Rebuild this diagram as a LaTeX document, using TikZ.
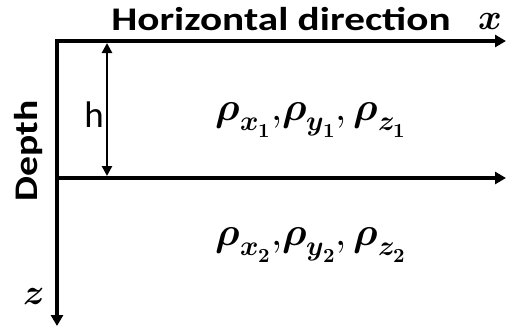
\documentclass[tikz,border=0pt]{standalone}
\usepackage{fontspec}
\usepackage{unicode-math}
\setmainfont{Carlito}
\setmathfont{Latin Modern Math}
\usetikzlibrary{arrows.meta}
\newcommand{\rhotrip}[1]{$\symbfit{\rho}_{\symbfit{x}_{\symbf{#1}}}{,}\symbfit{\rho}_{\symbfit{y}_{\symbf{#1}}}{,}\,\symbfit{\rho}_{\symbfit{z}_{\symbf{#1}}}$}
\begin{document}
\begin{tikzpicture}[x=1pt,y=-1pt,
  axis/.style={line width=3.6pt,-{Triangle[length=11pt,width=12pt]}},
  dim/.style={line width=2.8pt,{Triangle[length=10pt,width=10pt]}-{Triangle[length=10pt,width=10pt]}},
  lbl/.style={font=\fontsize{33}{36}\selectfont\bfseries,inner sep=0pt},
  mlbl/.style={font=\fontsize{40}{44}\selectfont,inner sep=0pt}]
\useasboundingbox (0,0) rectangle (507,327);
\coordinate (o) at (57,41);
\coordinate (xe) at (506,41);
\coordinate (ze) at (57,326);
\coordinate (l) at (57,178);
\coordinate (le) at (506,178);
\coordinate (ht) at (107,43);
\coordinate (hb) at (107,176);
\draw[axis] ([xshift=-1.8pt]o) -- (xe);
\draw[axis] (o) -- (ze);
\draw[axis] (l) -- (le);
\draw[dim] (ht) -- (hb);
\node[lbl] (title) at (281,19) {\scalebox{1.25}[1]{Horizontal direction}};
\node[font=\fontsize{36}{40}\selectfont,inner sep=0pt] (xl) at (490,22) {$\symbfit{x}$};
\node[lbl,rotate=90] (depth) at (29,151) {\scalebox{1.2}[1]{Depth}};
\node[font=\fontsize{36}{40}\selectfont,inner sep=0pt] (zl) at (34,297) {$\symbfit{z}$};
\node[font=\fontsize{37}{40}\selectfont,inner sep=0pt] (h) at (94,115) {h};
\node[mlbl] (r1) at (311,120) {\rhotrip{1}};
\node[mlbl] (r2) at (311,245) {\rhotrip{2}};
\end{tikzpicture}
\end{document}
